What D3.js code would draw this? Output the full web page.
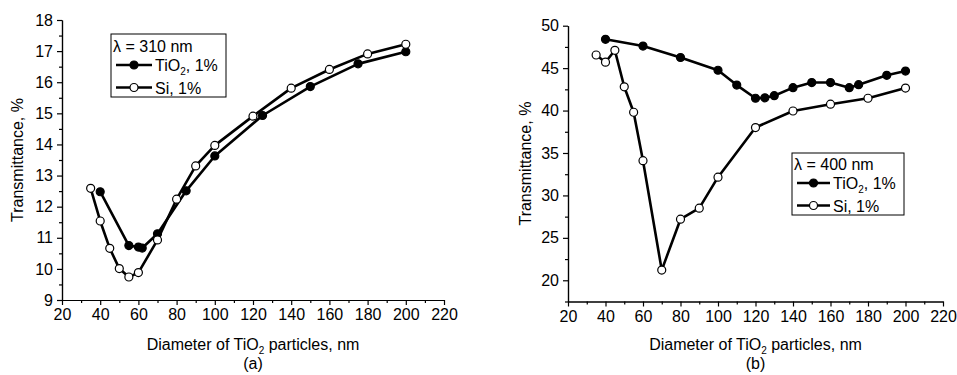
<!DOCTYPE html>
<html><head><meta charset="utf-8">
<script src="https://cdn.jsdelivr.net/npm/d3@7/dist/d3.min.js"></script>
<style>body{margin:0;background:#fff}svg{display:block}text{font-family:"Liberation Sans",Arial,sans-serif;fill:#000}</style>
</head><body><svg id="c" width="957" height="375"></svg>
<script>
// Panel (a): lambda = 310 nm
const aTiO2X = [40, 55, 60, 62, 70, 85, 100, 125, 150, 175, 200];
const aTiO2Y = [12.48, 10.75, 10.70, 10.67, 11.13, 12.51, 13.63, 14.93, 15.86, 16.59, 16.98];
const aSiX = [35, 40, 45, 50, 55, 60, 70, 80, 90, 100, 120, 140, 160, 180, 200];
const aSiY = [12.59, 11.54, 10.66, 10.01, 9.74, 9.88, 10.93, 12.24, 13.31, 13.97, 14.91, 15.81, 16.41, 16.91, 17.22];
// Panel (b): lambda = 400 nm
const bTiO2X = [40, 60, 80, 100, 110, 120, 125, 130, 140, 150, 160, 170, 175, 190, 200];
const bTiO2Y = [48.4, 47.6, 46.25, 44.75, 43.0, 41.45, 41.5, 41.75, 42.7, 43.3, 43.3, 42.7, 43.05, 44.15, 44.65];
const bSiX = [35, 40, 45, 50, 55, 60, 70, 80, 90, 100, 120, 140, 160, 180, 200];
const bSiY = [46.55, 45.7, 47.1, 42.8, 39.8, 34.1, 21.2, 27.2, 28.5, 32.15, 38.0, 39.95, 40.75, 41.45, 42.65];

const xTicks = [20, 40, 60, 80, 100, 120, 140, 160, 180, 200, 220];
const xMinor = [30, 50, 70, 90, 110, 130, 150, 170, 190, 210];
const aYTicks = [9, 10, 11, 12, 13, 14, 15, 16, 17, 18];
const aYMinor = [9.5, 10.5, 11.5, 12.5, 13.5, 14.5, 15.5, 16.5, 17.5];
const bYTicks = [20, 25, 30, 35, 40, 45, 50];
const bYMinor = [17.5, 22.5, 27.5, 32.5, 37.5, 42.5, 47.5];

const FS = "16px", SUB = "10px";
const svg = d3.select("#c");

function panel(o) {
  const x = d3.scaleLinear().domain([20, 220]).range([o.x0, o.x1]);
  const y = d3.scaleLinear().domain(o.yDomain).range([o.y1, o.y0]);
  const g = svg.append("g");
  g.append("g").attr("transform", `translate(0,${o.y1})`)
    .call(d3.axisBottom(x).tickValues(xTicks).tickSize(5).tickSizeOuter(0).tickPadding(4));
  g.append("g").attr("transform", `translate(0,${o.y1})`)
    .call(d3.axisBottom(x).tickValues(xMinor).tickSize(3).tickSizeOuter(0).tickFormat(""));
  g.append("g").attr("transform", `translate(${o.x0},0)`)
    .call(d3.axisLeft(y).tickValues(o.yTicks).tickSize(5).tickSizeOuter(0).tickPadding(4));
  g.append("g").attr("transform", `translate(${o.x0},0)`)
    .call(d3.axisLeft(y).tickValues(o.yMinor).tickSize(3).tickSizeOuter(0).tickFormat(""));
  g.selectAll(".domain").attr("stroke", "#000").attr("stroke-width", 1.2);
  g.selectAll(".tick line").attr("stroke", "#000").attr("stroke-width", 1.2);
  g.selectAll(".tick text").style("font-size", FS).attr("fill", "#000")
    .style("font-family", '"Liberation Sans", Arial, sans-serif');

  const line = d3.line().x(d => x(d[0])).y(d => y(d[1]));
  function series(xs, ys, filled) {
    const pts = xs.map((v, i) => [v, ys[i]]);
    g.append("path").datum(pts).attr("d", line).attr("fill", "none")
      .attr("stroke", "#000").attr("stroke-width", 2.6).attr("stroke-linejoin", "round");
    g.selectAll(null).data(pts).enter().append("circle")
      .attr("cx", d => x(d[0])).attr("cy", d => y(d[1])).attr("r", 4)
      .attr("fill", filled ? "#000" : "#fff").attr("stroke", "#000").attr("stroke-width", 1.2);
  }
  series(o.tX, o.tY, true);
  series(o.sX, o.sY, false);

  const xt = g.append("text").attr("x", (o.x0 + o.x1) / 2).attr("y", 350)
    .attr("text-anchor", "middle").style("font-size", FS);
  xt.append("tspan").text("Diameter of TiO");
  xt.append("tspan").attr("dy", 4).style("font-size", SUB).text("2");
  xt.append("tspan").attr("dy", -4).text(" particles, nm");
  g.append("text").attr("x", (o.x0 + o.x1) / 2).attr("y", 369)
    .attr("text-anchor", "middle").style("font-size", FS).text(o.tag);
  g.append("text").attr("transform", `translate(${o.yl},${(o.y0 + o.y1) / 2}) rotate(-90)`)
    .attr("text-anchor", "middle").style("font-size", FS).text("Transmittance, %");

  const L = o.leg;
  g.append("rect").attr("x", L.x).attr("y", L.y).attr("width", L.w).attr("height", L.h)
    .attr("fill", "#fff").attr("stroke", "#000").attr("stroke-width", 1);
  g.append("text").attr("x", L.x + 2).attr("y", L.y + L.t).style("font-size", FS).text(o.lam);
  [true, false].forEach((filled, i) => {
    const cy = L.y + L.r + i * 22.5;
    g.append("line").attr("x1", L.x + 5).attr("x2", L.x + 5 + L.lw).attr("y1", cy).attr("y2", cy)
      .attr("stroke", "#000").attr("stroke-width", 2.6);
    g.append("circle").attr("cx", L.x + 5 + L.lw / 2).attr("cy", cy).attr("r", 4)
      .attr("fill", filled ? "#000" : "#fff").attr("stroke", "#000").attr("stroke-width", 1.2);
    const t = g.append("text").attr("x", L.x + 8 + L.lw).attr("y", cy + 6).style("font-size", FS);
    if (filled) {
      t.append("tspan").text("TiO");
      t.append("tspan").attr("dy", 4).style("font-size", SUB).text("2");
      t.append("tspan").attr("dy", -4).text(", 1%");
    } else t.text("Si, 1%");
  });
}

panel({x0: 62, x1: 444, y0: 20, y1: 300, yDomain: [9, 18], yTicks: aYTicks, yMinor: aYMinor,
  tX: aTiO2X, tY: aTiO2Y, sX: aSiX, sY: aSiY, tag: "(a)", yl: 23, lam: "λ = 310 nm",
  leg: {x: 111, y: 34, w: 115, h: 63, t: 18, r: 31, lw: 36}});
panel({x0: 568, x1: 943, y0: 25.7, y1: 301.5, yDomain: [17.5, 50], yTicks: bYTicks, yMinor: bYMinor,
  tX: bTiO2X, tY: bTiO2Y, sX: bSiX, sY: bSiY, tag: "(b)", yl: 531, lam: "λ = 400 nm",
  leg: {x: 792, y: 153, w: 112, h: 62, t: 17, r: 30, lw: 33}});
</script></body></html>
